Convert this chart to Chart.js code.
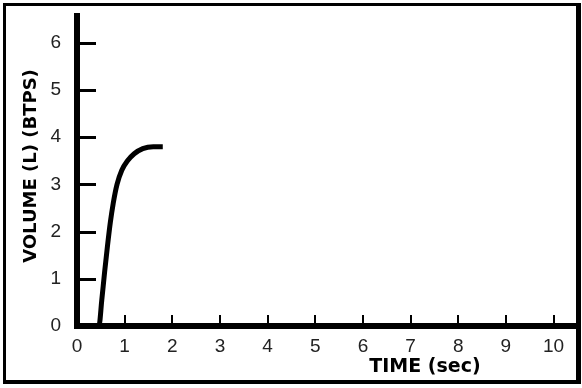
<!DOCTYPE html>
<html>
<head>
<meta charset="utf-8">
<script src="https://cdn.jsdelivr.net/npm/chart.js@4.4.1/dist/chart.umd.min.js"></script>
<style>
    body { margin: 0; background: #fff; }
    #wrap { position: relative; width: 582px; height: 388px; }
    #frame {
        position: absolute; left: 3px; top: 3px; width: 578px; height: 381px;
        box-sizing: border-box; border-style: solid; border-color: #000;
        border-width: 3px 5px 4px 3px; pointer-events: none;
    }
</style>
</head>
<body>
<div id="wrap">
    <canvas id="chart" width="582" height="388"></canvas>
    <div id="frame"></div>
</div>
<script>
// Volume-time curve (spirometry)
const timeSec = [0, 0.46, 0.52, 0.58, 0.64, 0.70, 0.76, 0.84, 0.94, 1.06, 1.2, 1.38, 1.6, 1.8];
const volumeL = [0, 0, 0.55, 1.15, 1.7, 2.2, 2.6, 3.0, 3.3, 3.5, 3.65, 3.76, 3.8, 3.8];
const xTicks = [0, 1, 2, 3, 4, 5, 6, 7, 8, 9, 10];
const yTicks = [0, 1, 2, 3, 4, 5, 6];
const xTitle = 'TIME (sec)';
const yTitle = 'VOLUME (L) (BTPS)';

// tick marks point inward, titles placed by hand
const axisDecor = {
    id: 'axisDecor',
    afterDraw(chart) {
        const ctx = chart.ctx;
        const area = chart.chartArea;
        const xs = chart.scales.x;
        const ys = chart.scales.y;
        ctx.save();
        ctx.strokeStyle = '#000';
        ctx.lineWidth = 3;
        yTicks.forEach(v => {
            if (v === 0) return;
            const y = Math.round(ys.getPixelForValue(v)) + 0.5;
            ctx.beginPath();
            ctx.moveTo(area.left + 3, y);
            ctx.lineTo(area.left + 19, y);
            ctx.stroke();
        });
        ctx.lineWidth = 2;
        xTicks.forEach(v => {
            if (v === 0) return;
            const x = Math.round(xs.getPixelForValue(v));
            ctx.beginPath();
            ctx.moveTo(x, area.bottom - 3);
            ctx.lineTo(x, area.bottom - 11);
            ctx.stroke();
        });

        ctx.fillStyle = '#000';
        ctx.textAlign = 'center';
        ctx.textBaseline = 'middle';
        ctx.font = 'bold 19px "DejaVu Sans"';
        ctx.fillText(xTitle, 425, 367);
        ctx.translate(31, 166);
        ctx.rotate(-Math.PI / 2);
        ctx.font = 'bold 18px "DejaVu Sans"';
        ctx.fillText(yTitle, 0, 0);
        ctx.restore();
    }
};

new Chart(document.getElementById('chart'), {
    type: 'scatter',
    data: {
        datasets: [{
            data: timeSec.map((t, i) => ({ x: t, y: volumeL[i] })),
            showLine: true,
            borderColor: '#000',
            borderWidth: 5,
            borderCapStyle: 'butt',
            pointRadius: 0,
            cubicInterpolationMode: 'monotone'
        }]
    },
    options: {
        responsive: false,
        animation: false,
        devicePixelRatio: 1,
        layout: { padding: { top: 16, right: 7, left: 0, bottom: 0 } },
        plugins: { legend: { display: false }, tooltip: { enabled: false } },
        scales: {
            x: {
                type: 'linear',
                min: 0,
                max: 10.45,
                afterBuildTicks: s => { s.ticks = xTicks.map(v => ({ value: v })); },
                afterFit: s => { s.height = 62; s.paddingLeft = 0; s.paddingRight = 0; },
                grid: { drawOnChartArea: false, drawTicks: false, color: 'rgba(0,0,0,0)' },
                border: { display: true, width: 6, color: '#000' },
                ticks: {
                    padding: 9,
                    maxRotation: 0,
                    autoSkip: false,
                    color: '#222',
                    font: { family: 'Liberation Sans', size: 19 }
                }
            },
            y: {
                type: 'linear',
                min: 0,
                max: 6.57,
                afterBuildTicks: s => { s.ticks = yTicks.map(v => ({ value: v })); },
                afterFit: s => { s.width = 77; s.paddingTop = 0; s.paddingBottom = 0; },
                grid: { drawOnChartArea: false, drawTicks: false, color: 'rgba(0,0,0,0)' },
                border: { display: true, width: 6, color: '#000' },
                ticks: {
                    padding: 16,
                    color: '#222',
                    font: { family: 'Liberation Sans', size: 19 }
                }
            }
        }
    },
    plugins: [axisDecor]
});
</script>
</body>
</html>
